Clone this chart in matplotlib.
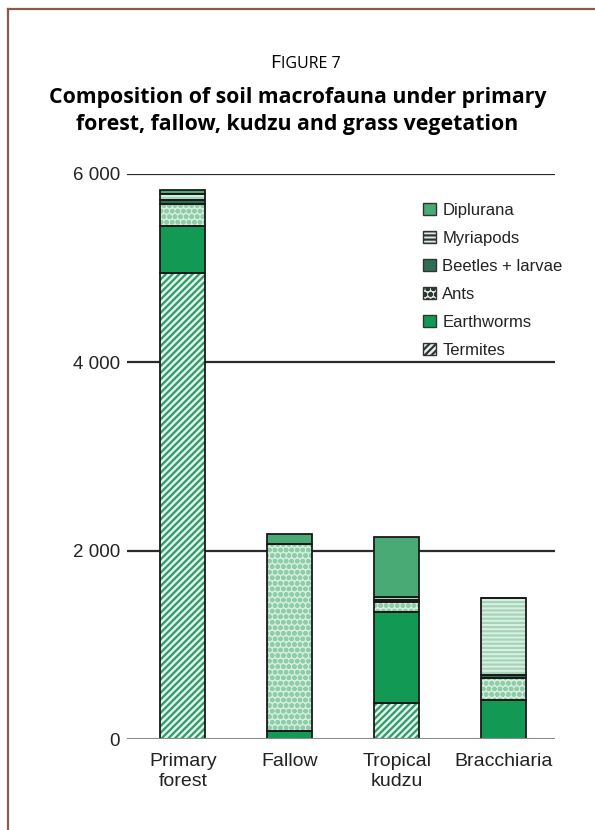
import matplotlib
matplotlib.use("Agg")
import matplotlib.pyplot as plt
from matplotlib.patches import Patch
from matplotlib.lines import Line2D

categories = ["Primary\nforest", "Fallow", "Tropical\nkudzu", "Bracchiaria"]
series_names = ["Termites", "Earthworms", "Ants", "Beetles + larvae", "Myriapods", "Diplurana"]
termites = [4950, 0, 380, 0]
earthworms = [500, 90, 970, 415]
ants = [230, 1980, 100, 235]
beetles = [40, 0, 25, 30]
myriapods = [70, 0, 35, 820]
diplurana = [45, 110, 630, 0]
yticks = [0, 2000, 4000, 6000]
ytick_labels = ["0", "2 000", "4 000", "6 000"]

plt.rcParams["hatch.linewidth"] = 1.6

series = [termites, earthworms, ants, beetles, myriapods, diplurana]
faces = ["#e4f3ea", "#129a55", "#d6eede", "#2f6e55", "#dcefe3", "#4aaa76"]
hatchcols = ["#2c9c68", "#129a55", "#8fcca8", "#2f6e55", "#a5d5b9", "#4aaa76"]
hatches = ["/////", None, "ooo", None, "----", None]

sans = ["Liberation Sans", "DejaVu Sans"]

fig = plt.figure(figsize=(5.95, 8.3), dpi=100)
ax = fig.add_axes([127 / 595, (830 - 739) / 830, (555 - 127) / 595, (739 - 174) / 830])

x = list(range(len(categories)))
width = 0.42
bottom = [0] * len(categories)
handles = []
for vals, fc, hc, h, name in zip(series, faces, hatchcols, hatches, series_names):
    ax.bar(x, vals, width, bottom=bottom, color=fc, edgecolor=hc, hatch=h,
           linewidth=0, zorder=3)
    ax.bar(x, vals, width, bottom=bottom, fill=False, edgecolor="#1a1a1a",
           linewidth=1.3, zorder=4)
    handles.append(Patch(facecolor=fc, edgecolor="#333333", hatch=h, linewidth=1.0, label=name))
    bottom = [b + v for b, v in zip(bottom, vals)]

ax.set_xlim(-0.523, 3.477)
ax.set_ylim(0, 6000)
for t in yticks[1:]:
    ax.axhline(t, color="#2b2b2b", linewidth=1.6, zorder=1)
ax.axhline(0, color="#8a8a8a", linewidth=2.2, zorder=5)

for s in ax.spines.values():
    s.set_visible(False)
ax.set_yticks(yticks)
ax.set_yticklabels(ytick_labels, family=sans, fontsize=13.5, color="#222222")
ax.set_xticks(x)
ax.set_xticklabels(categories, family=sans, fontsize=14, color="#222222", linespacing=1.25)
ax.tick_params(length=0, axis="y", pad=5)
ax.tick_params(length=0, axis="x", pad=10)

leg = ax.legend(handles=handles[::-1], loc="upper left", bbox_to_anchor=((423 - 127) / 428, 1 - (203 - 174) / 565),
                frameon=False, prop={"family": sans, "size": 12},
                handlelength=0.75, handleheight=0.75, handletextpad=0.4, labelspacing=0.78,
                borderaxespad=0, borderpad=0)
for t in leg.get_texts():
    t.set_color("#222222")

fx = 0.5 - 0.03
fig.text(fx, 1 - 68 / 830, "F", ha="right", va="baseline", fontsize=14, family="Open Sans")
fig.text(fx + 0.002, 1 - 68 / 830, "IGURE 7", ha="left", va="baseline", fontsize=11.5, family="Open Sans")
fig.text(0.5, 1 - 111 / 830, "Composition of soil macrofauna under primary\nforest, fallow, kudzu and grass vegetation",
         ha="center", va="center", fontsize=15.3, family="Open Sans", weight="bold", linespacing=1.32)

# brown frame (top and left)
fig.add_artist(Line2D([8 / 595, 1.0], [1 - 9 / 830, 1 - 9 / 830], color="#8b5a4a", linewidth=1.6,
                      transform=fig.transFigure))
fig.add_artist(Line2D([8 / 595, 8 / 595], [0.0, 1 - 9 / 830], color="#8b5a4a", linewidth=1.6,
                      transform=fig.transFigure))

fig.savefig("out.png", dpi=100)
